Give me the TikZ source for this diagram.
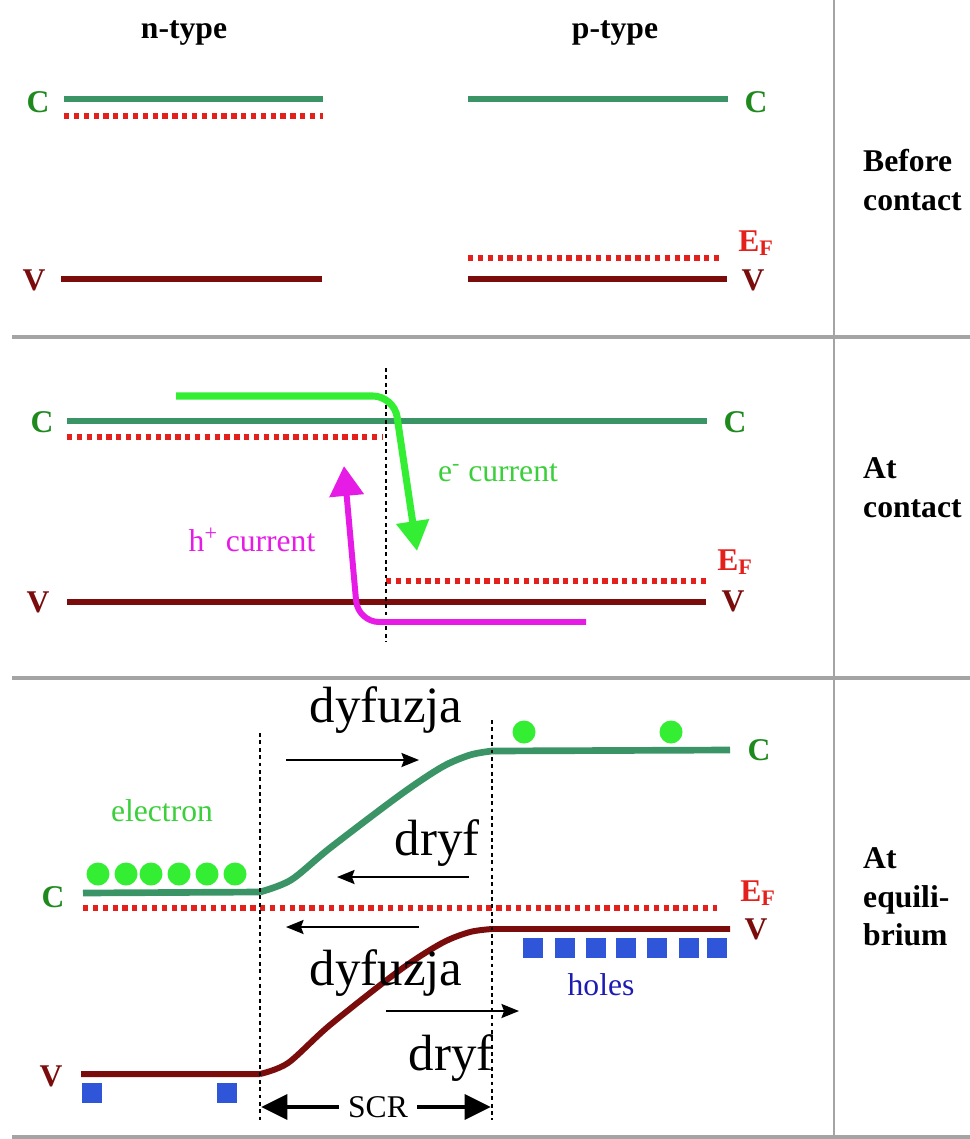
\documentclass[tikz,border=0pt]{standalone}
\usepackage{fontspec}
\setmainfont{Liberation Serif}
\usetikzlibrary{arrows.meta,calc}
\definecolor{condc}{HTML}{3A9466}
\definecolor{fermic}{HTML}{E3201B}
\definecolor{valc}{HTML}{7A0C0C}
\definecolor{elc}{HTML}{33EE33}
\definecolor{holec}{HTML}{E61CE6}
\definecolor{sqc}{HTML}{2F55D8}
\definecolor{sepc}{HTML}{A4A4A4}
\definecolor{ctxt}{HTML}{1E8A1E}
\definecolor{eltxt}{HTML}{3CCF3C}
\definecolor{holetxt}{HTML}{1C1CB4}
\tikzset{
  cband/.style={draw=condc, line width=3.8pt},
  vband/.style={draw=valc, line width=3.4pt},
  fermi/.style={draw=fermic, line width=3.2pt, dash pattern=on 3pt off 2.6pt},
  junc/.style={draw=black, line width=1.6pt, dash pattern=on 2.2pt off 2pt},
  sep/.style={draw=sepc, line width=2.3pt},
  blbl/.style={font=\bfseries\fontsize{18}{22}\selectfont},
  clbl/.style={blbl, text=ctxt},
  vlbl/.style={blbl, text=valc},
  flbl/.style={blbl, text=fermic},
  side/.style={blbl, align=left, anchor=west},
  rlbl/.style={font=\fontsize{18}{20}\selectfont},
  big/.style={font=\fontsize{29}{30}\selectfont},
  flow/.style={-{Stealth[length=10pt, width=8pt, inset=1.5pt]}, line width=1.1pt},
  scrarr/.style={-{Triangle[length=15pt, width=14pt]}, line width=2.8pt},
  ecur/.style={draw=elc, line width=4pt, rounded corners=12pt,
               -{Triangle[length=17pt, width=18pt]}},
  hcur/.style={draw=holec, line width=3.4pt, rounded corners=12pt,
               -{Triangle[length=17pt, width=19pt]}},
}

\begin{document}
\begin{tikzpicture}[x=0.02cm, y=-0.02cm]
  \useasboundingbox (0,0) rectangle (970,1139);

  % frame
  \draw[sep] (12,337) -- (970,337);
  \draw[sep] (12,678) -- (970,678);
  \draw[sep] (12,1137) -- (970,1137);
  \draw[draw=sepc, line width=1.6pt] (834,0) -- (834,1139);

  % before contact
  \node[blbl] (ntype) at (184,33) {n-type};
  \node[blbl] (ptype) at (615,33) {p-type};
  \draw[cband] (64,99) -- (323,99);
  \draw[fermi] (64,116) -- (323,116);
  \draw[vband] (61,279) -- (322,279);
  \draw[cband] (468,99) -- (728,99);
  \draw[fermi] (468,258) -- (722,258);
  \draw[vband] (468,279) -- (727,279);
  \node[clbl] (nc1) at (38,102) {C};
  \node[vlbl] (nv1) at (34,280) {V};
  \node[clbl] (pc1) at (756,102) {C};
  \node[vlbl] (pv1) at (753,280) {V};
  \node[flbl] (pf1) at (756,243) {E\textsubscript{F}};
  \node[side] (before) at (857,180) {Before\\contact};

  % at contact
  \draw[cband] (67,421) -- (707,421);
  \draw[fermi] (67,437) -- (383,437);
  \draw[fermi] (386,581) -- (707,581);
  \draw[vband] (67,602) -- (706,602);
  \coordinate (j0t) at (386,368);
  \coordinate (j0b) at (386,642);
  \draw[junc] (j0t) -- (j0b);
  \coordinate (es) at (176,396);
  \coordinate (ek) at (394,396);
  \coordinate (ee) at (417,551);
  \draw[ecur] (es) -- (ek) -- (ee);
  \coordinate (hs) at (586,622);
  \coordinate (hk) at (358,622);
  \coordinate (he) at (344,466);
  \draw[hcur] (hs) -- (hk) -- (he);
  \node[rlbl, text=eltxt] (ecurr) at (498,473) {e\textsuperscript{-} current};
  \node[rlbl, text=holec] (hcurr) at (252,540) {h\textsuperscript{+} current};
  \node[clbl] (nc2) at (42,422) {C};
  \node[vlbl] (nv2) at (38,602) {V};
  \node[clbl] (pc2) at (735,422) {C};
  \node[vlbl] (pv2) at (733,601) {V};
  \node[flbl] (pf2) at (735,562) {E\textsubscript{F}};
  \node[side] (contact) at (857,488) {At\\contact};

  % at equilibrium
  \draw[cband, line join=round] (83,893) -- (260,892)
    plot[smooth] coordinates {(260,892) (291,880) (330,848) (400,795) (442,767) (470,755) (492,751)}
    -- (730,750);
  \draw[vband, line join=round] (81,1074) -- (260,1074)
    plot[smooth] coordinates {(260,1074) (288,1063) (330,1025) (400,970) (442,943) (470,932) (492,929)}
    -- (730,929);
  \draw[fermi] (83,908) -- (717,908);
  \coordinate (jlt) at (260,733);
  \coordinate (jlb) at (260,1120);
  \coordinate (jrt) at (492,720);
  \coordinate (jrb) at (492,1120);
  \draw[junc] (jlt) -- (jlb);
  \draw[junc] (jrt) -- (jrb);

  \foreach \x in {98,126,151,179,207,235} \fill[elc] (\x,874) circle (11.5);
  \foreach \x in {524,671} \fill[elc] (\x,732) circle (11.5);
  \foreach \x in {533,565,596,626,657,689,717} \fill[sqc] (\x-10,938) rectangle ++(20,20);
  \foreach \x in {92,227} \fill[sqc] (\x-10,1083) rectangle ++(20,20);

  \node[rlbl, text=eltxt] (elec) at (162,811) {electron};
  \node[rlbl, text=holetxt] (holes) at (601,985) {holes};

  \node[big] (dfe) at (386,710) {dyfuzja};
  \node[big] (dre) at (437,843) {dryf};
  \node[big] (dfh) at (386,973) {dyfuzja};
  \node[big] (drh) at (451,1058) {dryf};
  \coordinate (dfes) at (286,760);
  \coordinate (dfee) at (419,760);
  \coordinate (dres) at (469,877);
  \coordinate (dree) at (337,877);
  \coordinate (dfhs) at (419,927);
  \coordinate (dfhe) at (286,927);
  \coordinate (drhs) at (386,1011);
  \coordinate (drhe) at (519,1011);
  \draw[flow] (dfes) -- (dfee);
  \draw[flow] (dres) -- (dree);
  \draw[flow] (dfhs) -- (dfhe);
  \draw[flow] (drhs) -- (drhe);

  \node[rlbl] (scr) at (378,1107) {SCR};
  \draw[scrarr] (scr.west) ++(-3,0) -- (261,1107);
  \draw[scrarr] (scr.east) ++(3,0) -- (491,1107);

  \node[clbl] (nc3) at (53,897) {C};
  \node[vlbl] (nv3) at (51,1076) {V};
  \node[clbl] (pc3) at (759,750) {C};
  \node[vlbl] (pv3) at (756,929) {V};
  \node[flbl] (pf3) at (758,893) {E\textsubscript{F}};
  \node[side] (equil) at (857,897) {At\\equili-\\brium};
\end{tikzpicture}
\end{document}
